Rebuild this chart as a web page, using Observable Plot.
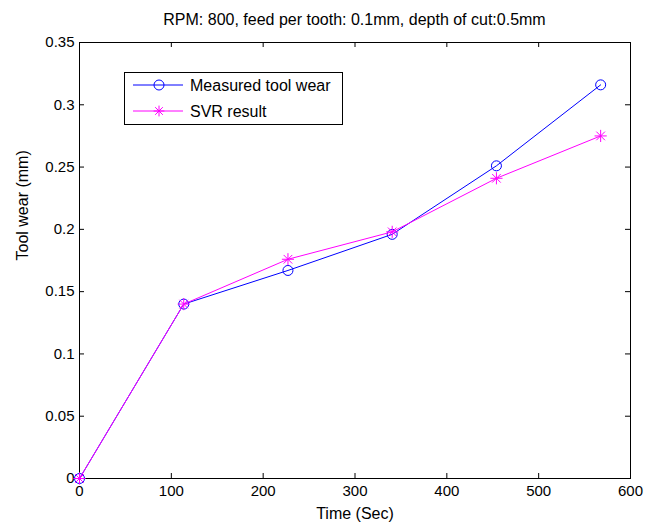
<!DOCTYPE html>
<html>
<head>
<meta charset="utf-8">
<script src="https://cdn.jsdelivr.net/npm/d3@7"></script>
<script src="https://cdn.jsdelivr.net/npm/@observablehq/plot@0.6"></script>
<style>
  html, body { margin: 0; padding: 0; background: #fff; }
  #wrap { position: relative; width: 646px; height: 525px; font-family: "Liberation Sans", Arial, sans-serif; }
  #title { position: absolute; left: 79px; width: 551px; top: 11px; text-align: center; font-size: 16px; color: #000; }
  #legend { position: absolute; left: 124px; top: 72px; }
</style>
</head>
<body>
<div id="wrap">
  <div id="chart"></div>
  <div id="title">RPM: 800, feed per tooth: 0.1mm, depth of cut:0.5mm</div>
  <svg id="legend" width="220" height="56"></svg>
</div>
<script>
const time = [0, 113.5, 227, 340.5, 454, 567.5];
const measured = [0, 0.14, 0.167, 0.196, 0.251, 0.316];
const svr = [0, 0.14, 0.176, 0.198, 0.241, 0.275];
const seriesNames = ["Measured tool wear", "SVR result"];
const xTicks = [0, 100, 200, 300, 400, 500, 600];
const yTicks = [0, 0.05, 0.1, 0.15, 0.2, 0.25, 0.3, 0.35];

const W = 646, H = 525;
const mL = 79, mR = 16, mT = 42, mB = 47;
const pw = W - mL - mR, ph = H - mT - mB;
const blue = "#0000ff", magenta = "#ff00ff";

const mData = time.map((t, i) => ({t, v: measured[i]}));
const sData = time.map((t, i) => ({t, v: svr[i]}));
const fmtY = d => d === 0 ? "0" : String(+d.toFixed(2));

const chart = Plot.plot({
  width: W, height: H,
  marginLeft: mL, marginRight: mR, marginTop: mT, marginBottom: mB,
  style: {fontFamily: "Liberation Sans, Arial, sans-serif", fontSize: "15px", color: "#000", background: "#fff"},
  x: {domain: [0, 600]},
  y: {domain: [0, 0.35]},
  marks: [
    Plot.frame({stroke: "#000", strokeWidth: 1}),
    Plot.tickX(xTicks, {x: d => d, insetTop: ph - 5, stroke: "#000"}),
    Plot.tickX(xTicks, {x: d => d, insetBottom: ph - 5, stroke: "#000"}),
    Plot.tickY(yTicks, {y: d => d, insetRight: pw - 5, stroke: "#000"}),
    Plot.tickY(yTicks, {y: d => d, insetLeft: pw - 5, stroke: "#000"}),
    Plot.axisX(xTicks, {tickSize: 0, tickPadding: 7, fontSize: 15, label: null}),
    Plot.axisY(yTicks, {tickSize: 0, tickPadding: 5, fontSize: 15, tickFormat: fmtY, label: null}),
    Plot.text(["Time (Sec)"], {frameAnchor: "bottom", dy: 40, fontSize: 16}),
    Plot.text(["Tool wear (mm)"], {frameAnchor: "left", dx: -57, rotate: -90, fontSize: 16}),
    Plot.line(mData, {x: "t", y: "v", stroke: blue, strokeWidth: 1}),
    Plot.dot(mData, {x: "t", y: "v", r: 5, stroke: blue, fill: "none", strokeWidth: 1}),
    Plot.line(sData, {x: "t", y: "v", stroke: magenta, strokeWidth: 1}),
    Plot.dot(sData, {x: "t", y: "v", r: 4, symbol: "plus", stroke: magenta, strokeWidth: 1}),
    Plot.dot(sData, {x: "t", y: "v", r: 4, symbol: "times", stroke: magenta, strokeWidth: 1})
  ]
});
document.getElementById("chart").appendChild(chart);

// legend
const lg = d3.select("#legend");
lg.append("rect").attr("x", 0.5).attr("y", 0.5).attr("width", 218).attr("height", 52)
  .attr("fill", "#fff").attr("stroke", "#000");
const rows = [{name: seriesNames[0], color: blue, y: 13}, {name: seriesNames[1], color: magenta, y: 39}];
rows.forEach((r, i) => {
  lg.append("line").attr("x1", 9).attr("x2", 59).attr("y1", r.y).attr("y2", r.y).attr("stroke", r.color);
  if (i === 0) {
    lg.append("circle").attr("cx", 35).attr("cy", r.y).attr("r", 5).attr("fill", "none").attr("stroke", r.color);
  } else {
    lg.append("path").attr("transform", `translate(35,${r.y})`)
      .attr("d", d3.symbol(d3.symbolPlus, 40)()).attr("fill", "none").attr("stroke", r.color);
    lg.append("path").attr("transform", `translate(35,${r.y})`)
      .attr("d", d3.symbol(d3.symbolTimes, 40)()).attr("fill", "none").attr("stroke", r.color);
  }
  lg.append("text").attr("x", 66).attr("y", r.y + 5.5).attr("font-size", 16)
    .attr("font-family", "Liberation Sans, Arial, sans-serif").text(r.name);
});
</script>
</body>
</html>
